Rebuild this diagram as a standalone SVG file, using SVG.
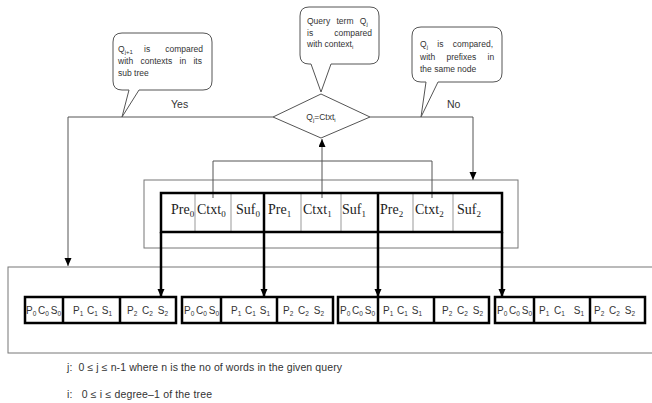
<svg xmlns="http://www.w3.org/2000/svg" width="652" height="403" viewBox="0 0 652 403">
<style>
.bg{fill:#fff}
.thin{fill:none;stroke:#555;stroke-width:1}
.frame{fill:none;stroke:#777;stroke-width:1}
.thick{fill:none;stroke:#000;stroke-width:2.5}
.sep{stroke:#999;stroke-width:1}
.call{fill:#fff;stroke:#555;stroke-width:1}
.ct{font-family:"Liberation Sans",Arial,sans-serif;font-size:8.5px;fill:#333}
.lbl{font-family:"Liberation Sans",Arial,sans-serif;font-size:10.5px;fill:#333}
.tt{font-family:"Liberation Serif","Times New Roman",serif;font-size:14px;fill:#222}
.nt{font-family:"Liberation Sans",Arial,sans-serif;font-size:10px;fill:#333}
.ft{font-family:"Liberation Sans",Arial,sans-serif;font-size:10.5px;fill:#333}
</style>
<defs>
<marker id="ah" markerUnits="userSpaceOnUse" markerWidth="8" markerHeight="8" refX="8" refY="3.5" orient="auto"><path d="M0,0 L8,3.5 L0,7 z" fill="#000"/></marker>
</defs>
<rect class="bg" width="652" height="403"/>

<!-- containers -->
<rect id="bottom-container" class="frame" x="8" y="267" width="660" height="86"/>
<rect id="middle-container" class="frame" x="144" y="180" width="374" height="68"/>

<!-- connectors -->
<g id="connectors">
<polyline class="thin" points="273,117 68,117 68,266" marker-end="url(#ah)"/>
<polyline class="thin" points="370,117 473,117 473,180" marker-end="url(#ah)"/>
<line class="thin" x1="322" y1="198" x2="322" y2="139" marker-end="url(#ah)"/>
<polyline class="thin" points="213,198 213,161 432,161 432,198"/>
<line class="thick" x1="161" y1="232" x2="161" y2="297" marker-end="url(#ah)"/>
<line class="thick" x1="264" y1="232" x2="264" y2="297" marker-end="url(#ah)"/>
<line class="thick" x1="378" y1="232" x2="378" y2="297" marker-end="url(#ah)"/>
<line class="thick" x1="502" y1="232" x2="502" y2="297" marker-end="url(#ah)"/>
<text class="lbl" x="171" y="108">Yes</text>
<text class="lbl" x="447" y="108">No</text>
</g>

<!-- callouts -->
<g id="callout-left">
<path class="call" d="M122,33 H203 Q212,33 212,42 V81 Q212,90 203,90 H139 L122,117 L129,90 H122 Q113,90 113,81 V42 Q113,33 122,33 Z"/>
<text class="ct" x="118" y="52">Q<tspan font-size="6" dy="2">j+1</tspan></text>
<text class="ct" x="144" y="52">is</text>
<text class="ct" x="203" y="52" text-anchor="end">compared</text>
<text class="ct" x="118" y="64" word-spacing="5">with contexts in its</text>
<text class="ct" x="118" y="76">sub tree</text>
</g>
<g id="callout-middle">
<path class="call" d="M309,7 H370 Q379,7 379,16 V55 Q379,64 370,64 H331 L321,92 L311,64 H309 Q300,64 300,55 V16 Q300,7 309,7 Z"/>
<text class="ct" x="307" y="24" word-spacing="4">Query term Q<tspan font-size="6" dy="2">j</tspan></text>
<text class="ct" x="307" y="36">is</text>
<text class="ct" x="372" y="36" text-anchor="end">compared</text>
<text class="ct" x="307" y="47">with context<tspan font-size="6" dy="2">i</tspan></text>
</g>
<g id="callout-right">
<path class="call" d="M421,27 H493 Q502,27 502,36 V73 Q502,82 493,82 H438 L421,117 L426,82 H421 Q412,82 412,73 V36 Q412,27 421,27 Z"/>
<text class="ct" x="420" y="47" word-spacing="7">Q<tspan font-size="6" dy="2">j</tspan><tspan dy="-2"> is compared,</tspan></text>
<text class="ct" x="420" y="60" word-spacing="9">with prefixes in</text>
<text class="ct" x="420" y="72">the same node</text>
</g>

<!-- decision -->
<g id="decision">
<polygon class="call" points="321,94 370,117 321,138 273,117"/>
<text class="ct" x="321" y="120" text-anchor="middle">Q<tspan font-size="6" dy="2">j</tspan><tspan dy="-2">=Ctxt</tspan><tspan font-size="6" dy="2">i</tspan></text>
</g>

<!-- parent node table -->
<g id="parent-node">
<line class="sep" x1="195" y1="193" x2="195" y2="232"/>
<line class="sep" x1="231" y1="193" x2="231" y2="232"/>
<line class="sep" x1="301" y1="193" x2="301" y2="232"/>
<line class="sep" x1="341" y1="193" x2="341" y2="232"/>
<line class="sep" x1="413" y1="193" x2="413" y2="232"/>
<line class="sep" x1="453" y1="193" x2="453" y2="232"/>
<rect class="thick" x="161" y="193" width="341" height="39"/>
<line class="thick" x1="264" y1="193" x2="264" y2="232"/>
<line class="thick" x1="378" y1="193" x2="378" y2="232"/>
<text class="tt" x="171" y="214">Pre<tspan font-size="9" dy="3">0</tspan></text>
<text class="tt" x="197" y="214">Ctxt<tspan font-size="9" dy="3">0</tspan></text>
<text class="tt" x="236" y="214">Suf<tspan font-size="9" dy="3">0</tspan></text>
<text class="tt" x="268" y="214">Pre<tspan font-size="9" dy="3">1</tspan></text>
<text class="tt" x="303" y="214">Ctxt<tspan font-size="9" dy="3">1</tspan></text>
<text class="tt" x="342" y="214">Suf<tspan font-size="9" dy="3">1</tspan></text>
<text class="tt" x="380" y="214">Pre<tspan font-size="9" dy="3">2</tspan></text>
<text class="tt" x="415" y="214">Ctxt<tspan font-size="9" dy="3">2</tspan></text>
<text class="tt" x="457" y="214">Suf<tspan font-size="9" dy="3">2</tspan></text>
</g>

<!-- child nodes -->
<g id="child-node-1">
<rect class="thick" x="25" y="297" width="151" height="26"/>
<line class="thick" x1="63" y1="297" x2="63" y2="323"/>
<line class="thick" x1="120" y1="297" x2="120" y2="323"/>
<text class="nt" x="26" y="314" word-spacing="-1">P<tspan font-size="6.5" dy="2">0</tspan><tspan dy="-2"> C</tspan><tspan font-size="6.5" dy="2">0</tspan><tspan dy="-2"> S</tspan><tspan font-size="6.5" dy="2">0</tspan></text>
<text class="nt" x="73" y="314" word-spacing="1">P<tspan font-size="6.5" dy="2">1</tspan><tspan dy="-2"> C</tspan><tspan font-size="6.5" dy="2">1</tspan><tspan dy="-2"> S</tspan><tspan font-size="6.5" dy="2">1</tspan></text>
<text class="nt" x="127" y="314" word-spacing="2">P<tspan font-size="6.5" dy="2">2</tspan><tspan dy="-2"> C</tspan><tspan font-size="6.5" dy="2">2</tspan><tspan dy="-2"> S</tspan><tspan font-size="6.5" dy="2">2</tspan></text>
</g>
<g id="child-node-2">
<rect class="thick" x="182" y="297" width="151" height="26"/>
<line class="thick" x1="221" y1="297" x2="221" y2="323"/>
<line class="thick" x1="277" y1="297" x2="277" y2="323"/>
<text class="nt" x="184" y="314" word-spacing="-1">P<tspan font-size="6.5" dy="2">0</tspan><tspan dy="-2"> C</tspan><tspan font-size="6.5" dy="2">0</tspan><tspan dy="-2"> S</tspan><tspan font-size="6.5" dy="2">0</tspan></text>
<text class="nt" x="231" y="314" word-spacing="1">P<tspan font-size="6.5" dy="2">1</tspan><tspan dy="-2"> C</tspan><tspan font-size="6.5" dy="2">1</tspan><tspan dy="-2"> S</tspan><tspan font-size="6.5" dy="2">1</tspan></text>
<text class="nt" x="283" y="314" word-spacing="2">P<tspan font-size="6.5" dy="2">2</tspan><tspan dy="-2"> C</tspan><tspan font-size="6.5" dy="2">2</tspan><tspan dy="-2"> S</tspan><tspan font-size="6.5" dy="2">2</tspan></text>
</g>
<g id="child-node-3">
<rect class="thick" x="338" y="297" width="151" height="26"/>
<line class="thick" x1="378" y1="297" x2="378" y2="323"/>
<line class="thick" x1="434" y1="297" x2="434" y2="323"/>
<text class="nt" x="340" y="314" word-spacing="-1">P<tspan font-size="6.5" dy="2">0</tspan><tspan dy="-2"> C</tspan><tspan font-size="6.5" dy="2">0</tspan><tspan dy="-2"> S</tspan><tspan font-size="6.5" dy="2">0</tspan></text>
<text class="nt" x="383" y="314" word-spacing="1">P<tspan font-size="6.5" dy="2">1</tspan><tspan dy="-2"> C</tspan><tspan font-size="6.5" dy="2">1</tspan><tspan dy="-2"> S</tspan><tspan font-size="6.5" dy="2">1</tspan></text>
<text class="nt" x="442" y="314" word-spacing="2">P<tspan font-size="6.5" dy="2">2</tspan><tspan dy="-2"> C</tspan><tspan font-size="6.5" dy="2">2</tspan><tspan dy="-2"> S</tspan><tspan font-size="6.5" dy="2">2</tspan></text>
</g>
<g id="child-node-4">
<rect class="thick" x="495" y="297" width="150" height="26"/>
<line class="thick" x1="534" y1="297" x2="534" y2="323"/>
<line class="thick" x1="590" y1="297" x2="590" y2="323"/>
<text class="nt" x="497" y="314" word-spacing="-1">P<tspan font-size="6.5" dy="2">0</tspan><tspan dy="-2"> C</tspan><tspan font-size="6.5" dy="2">0</tspan><tspan dy="-2"> S</tspan><tspan font-size="6.5" dy="2">0</tspan></text>
<text class="nt" x="539" y="314" word-spacing="2">P<tspan font-size="6.5" dy="2">1</tspan><tspan dy="-2"> C</tspan><tspan font-size="6.5" dy="2">1</tspan><tspan dy="-2" dx="4"> S</tspan><tspan font-size="6.5" dy="2">1</tspan></text>
<text class="nt" x="594" y="314" word-spacing="2">P<tspan font-size="6.5" dy="2">2</tspan><tspan dy="-2"> C</tspan><tspan font-size="6.5" dy="2">2</tspan><tspan dy="-2"> S</tspan><tspan font-size="6.5" dy="2">2</tspan></text>
</g>

<!-- footnotes -->
<text class="ft" x="67" y="371" xml:space="preserve" textLength="275" lengthAdjust="spacing">j:  0 ≤ j ≤ n-1 where n is the no of words in the given query</text>
<text class="ft" x="67" y="398" xml:space="preserve" textLength="145" lengthAdjust="spacing">i:   0 ≤ i ≤ degree–1 of the tree</text>
</svg>
